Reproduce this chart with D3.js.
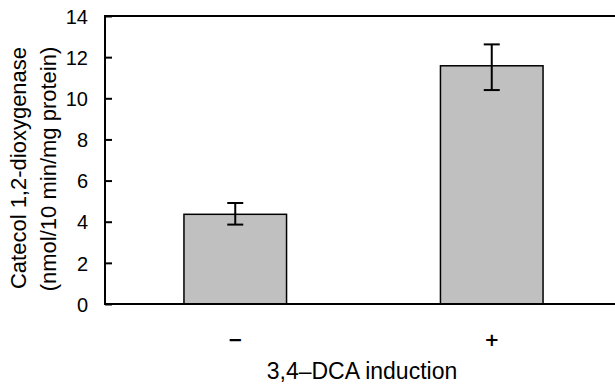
<!DOCTYPE html>
<html>
<head>
<meta charset="utf-8">
<script src="https://cdn.jsdelivr.net/npm/d3@7"></script>
<style>
  body { margin: 0; background: #fff; }
  text { fill: #000; }
</style>
</head>
<body>
<script>
'use strict';

const width = 615;
const height = 386;
const paddingLeft = 105;
const paddingRight = -5;
const paddingTop = 16;
const paddingBottom = 82;

// data
let categories = ['−', '+'];
let activity = [4.36, 11.58];
let errLow = [3.86, 10.4];
let errHigh = [4.91, 12.62];
let yTicks = [0, 2, 4, 6, 8, 10, 12, 14];

let rows = categories.map((c, i) => ({ cat: c, v: activity[i], lo: errLow[i], hi: errHigh[i] }));

let svg = d3.select("body").append("svg").attr('width', width).attr('height', height);

let xScale = d3.scaleBand()
    .domain(categories)
    .range([paddingLeft + 2, width - paddingRight])
    .paddingInner(0.6)
    .paddingOuter(0.3);

let yScale = d3.scaleLinear()
    .domain([0, 14])
    .range([height - paddingBottom, paddingTop]);

// bars
svg.append("g")
    .selectAll("rect")
    .data(rows)
    .join("rect")
    .attr("x", d => xScale(d.cat))
    .attr("width", xScale.bandwidth())
    .attr("y", d => yScale(d.v))
    .attr("height", d => yScale(0) - yScale(d.v))
    .attr("fill", "#c0c0c0")
    .attr("stroke", "#000")
    .attr("stroke-width", 1.5);

// error bars
let eb = svg.append("g").attr("stroke", "#000").attr("stroke-width", 2);
rows.forEach(d => {
    let cx = xScale(d.cat) + xScale.bandwidth() / 2;
    eb.append("line").attr("x1", cx).attr("x2", cx).attr("y1", yScale(d.lo)).attr("y2", yScale(d.hi));
    eb.append("line").attr("x1", cx - 8).attr("x2", cx + 8).attr("y1", yScale(d.lo)).attr("y2", yScale(d.lo));
    eb.append("line").attr("x1", cx - 8).attr("x2", cx + 8).attr("y1", yScale(d.hi)).attr("y2", yScale(d.hi));
});

// frame
svg.append("rect")
    .attr("x", paddingLeft)
    .attr("y", paddingTop)
    .attr("width", width - paddingLeft + 10)
    .attr("height", yScale(0) - paddingTop)
    .attr("fill", "none")
    .attr("stroke", "#000")
    .attr("stroke-width", 2);

// y axis, ticks pointing inside
const yAxis = d3.axisRight(yScale)
    .tickValues(yTicks)
    .tickSize(7)
    .tickFormat(d3.format('d'));

let gy = svg.append("g")
    .attr("class", "y axis")
    .attr("transform", "translate(" + paddingLeft + ",0)")
    .call(yAxis);
gy.select(".domain").remove();
gy.selectAll(".tick line").attr("stroke", "#000").attr("stroke-width", 2);
gy.selectAll(".tick text")
    .attr("x", -17)
    .attr("dy", "0.36em")
    .attr("text-anchor", "end")
    .attr("font-family", "'Liberation Sans', Arial, sans-serif")
    .attr("font-size", 20)
    .attr("fill", "#000");

// category labels
svg.append("g")
    .selectAll("text")
    .data(categories)
    .join("text")
    .attr("x", d => xScale(d) + xScale.bandwidth() / 2)
    .attr("y", 346)
    .attr("text-anchor", "middle")
    .attr("font-family", "DejaVu Sans, sans-serif")
    .attr("font-weight", "bold")
    .attr("font-size", 18)
    .text(d => d);

// axis titles
svg.append("text")
    .attr("x", 362)
    .attr("y", 379)
    .attr("text-anchor", "middle")
    .attr("font-family", "Liberation Sans, Arial, sans-serif")
    .attr("font-size", 23)
    .text("3,4–DCA induction");

svg.append("text")
    .attr("transform", "translate(26," + 168 + ") rotate(-90)")
    .attr("text-anchor", "middle")
    .attr("font-family", "Liberation Sans, Arial, sans-serif")
    .attr("font-size", 22)
    .text("Catecol 1,2-dioxygenase");

svg.append("text")
    .attr("transform", "translate(56," + 169 + ") rotate(-90)")
    .attr("text-anchor", "middle")
    .attr("font-family", "Liberation Sans, Arial, sans-serif")
    .attr("font-size", 22)
    .text("(nmol/10 min/mg protein)");
</script>
</body>
</html>
